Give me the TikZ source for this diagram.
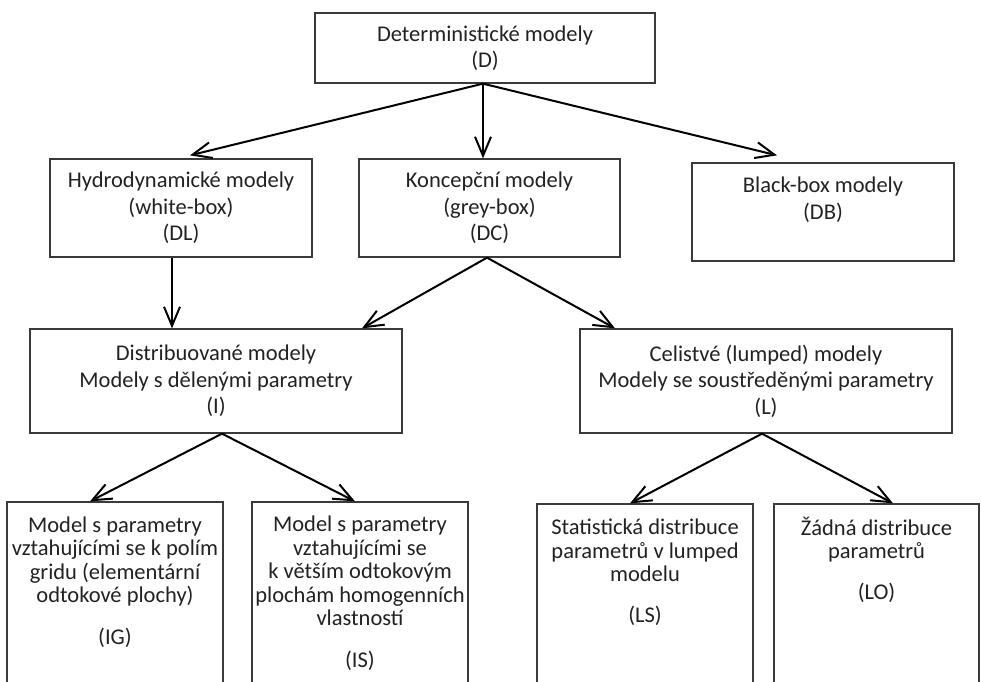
\documentclass[tikz,border=0pt]{standalone}
\usepackage{fontspec}
\setmainfont{Carlito}
\usetikzlibrary{arrows.meta}

\definecolor{boxgray}{HTML}{3A3A3A}
\definecolor{txtgray}{HTML}{222222}
\newcommand\boxfont{\fontsize{22.5}{26.5}\selectfont}
\newcommand\leaffont{\fontsize{22.5}{23.5}\selectfont}

\tikzset{
  box/.style={draw=boxgray, line width=1.3pt, rectangle, inner sep=0pt,
              align=center, text=txtgray, font=\boxfont},
  leafbox/.style={draw=boxgray, line width=1.3pt, rectangle, inner sep=0pt,
              minimum height=240pt},
  boxtext/.style={inner sep=0pt, align=center, text=txtgray, font=\boxfont, anchor=base},
  leaftext/.style={inner sep=0pt, align=center, text=txtgray, font=\leaffont, anchor=base},
  arr/.style={-{Straight Barb[length=19pt,width=16pt]}, line width=2pt, draw=black},
}

\begin{document}
\begin{tikzpicture}[x=1pt,y=-1pt]
  \clip (0,0) rectangle (981,681);
  \fill[white] (0,0) rectangle (981,681);

  % top level
  \node[box, minimum width=340pt, minimum height=70pt] (D) at (485,48)
    {Deterministické modely\\(D)};

  % second level
  \node[box, minimum width=262pt, minimum height=98pt] (H) at (181,208)
    {Hydrodynamické modely\\(white-box)\\(DL)};
  \node[box, minimum width=261pt, minimum height=98pt] (K) at (489.5,208)
    {Koncepční modely\\(grey-box)\\(DC)};
  \node[box, minimum width=262pt, minimum height=98pt] (BB) at (823,212) {};
  % multi-line text nodes: the base anchor sits on the last line
  \node[boxtext] (BBt) at (823,219) {Black-box modely\\(DB)};

  % third level
  \node[box, minimum width=372pt, minimum height=104pt] (I) at (216,381)
    {Distribuované modely\\Modely s dělenými parametry\\(I)};
  \node[box, minimum width=372pt, minimum height=104pt] (L) at (766,381)
    {Celistvé (lumped) modely\\Modely se soustředěnými parametry\\(L)};

  % leaves (open at the bottom edge)
  \node[leafbox, minimum width=216pt] (IG) at (115,622) {};
  \node[leafbox, minimum width=216pt] (IS) at (360,622) {};
  \node[leafbox, minimum width=216pt] (LS) at (645,624) {};
  \node[leafbox, minimum width=205pt] (LO) at (876.5,624) {};

  \node[leaftext] (IGt) at (115,644)
    {Model s parametry\\vztahujícími se k polím\\gridu (elementární\\odtokové plochy)\\[18pt](IG)};
  \node[leaftext] (ISt) at (360,667)
    {Model s parametry\\vztahujícími se\\k větším odtokovým\\plochám homogenních\\vlastností\\[18pt](IS)};
  \node[leaftext] (LSt) at (645,622)
    {Statistická distribuce\\parametrů v lumped\\modelu\\[17pt](LS)};
  \node[leaftext] (LOt) at (876.5,599)
    {Žádná distribuce\\parametrů\\[17pt](LO)};

  % connectors
  \draw[arr] ([xshift=-2pt]D.south) -- ([xshift=9pt,yshift=3pt]H.north);
  \draw[arr] ([xshift=-2pt]D.south) -- ([xshift=-6.5pt]K.north);
  \draw[arr] ([xshift=-2pt]D.south) -- ([xshift=-46pt,yshift=7pt]BB.north);

  \draw[arr] ([xshift=-9pt]H.south) -- ([xshift=-44pt]I.north);
  \draw[arr] ([xshift=-2.5pt]K.south) -- ([xshift=146pt]I.north);
  \draw[arr] ([xshift=-2.5pt]K.south) -- ([xshift=-151pt]L.north);

  \draw[arr] ([xshift=6pt]I.south) -- ([xshift=-25pt]IG.north);
  \draw[arr] ([xshift=6pt]I.south) -- ([xshift=-5pt]IS.north);
  \draw[arr] ([xshift=-4pt]L.south) -- ([xshift=-15pt]LS.north);
  \draw[arr] ([xshift=-4pt]L.south) -- ([xshift=16.5pt]LO.north);
\end{tikzpicture}
\end{document}
